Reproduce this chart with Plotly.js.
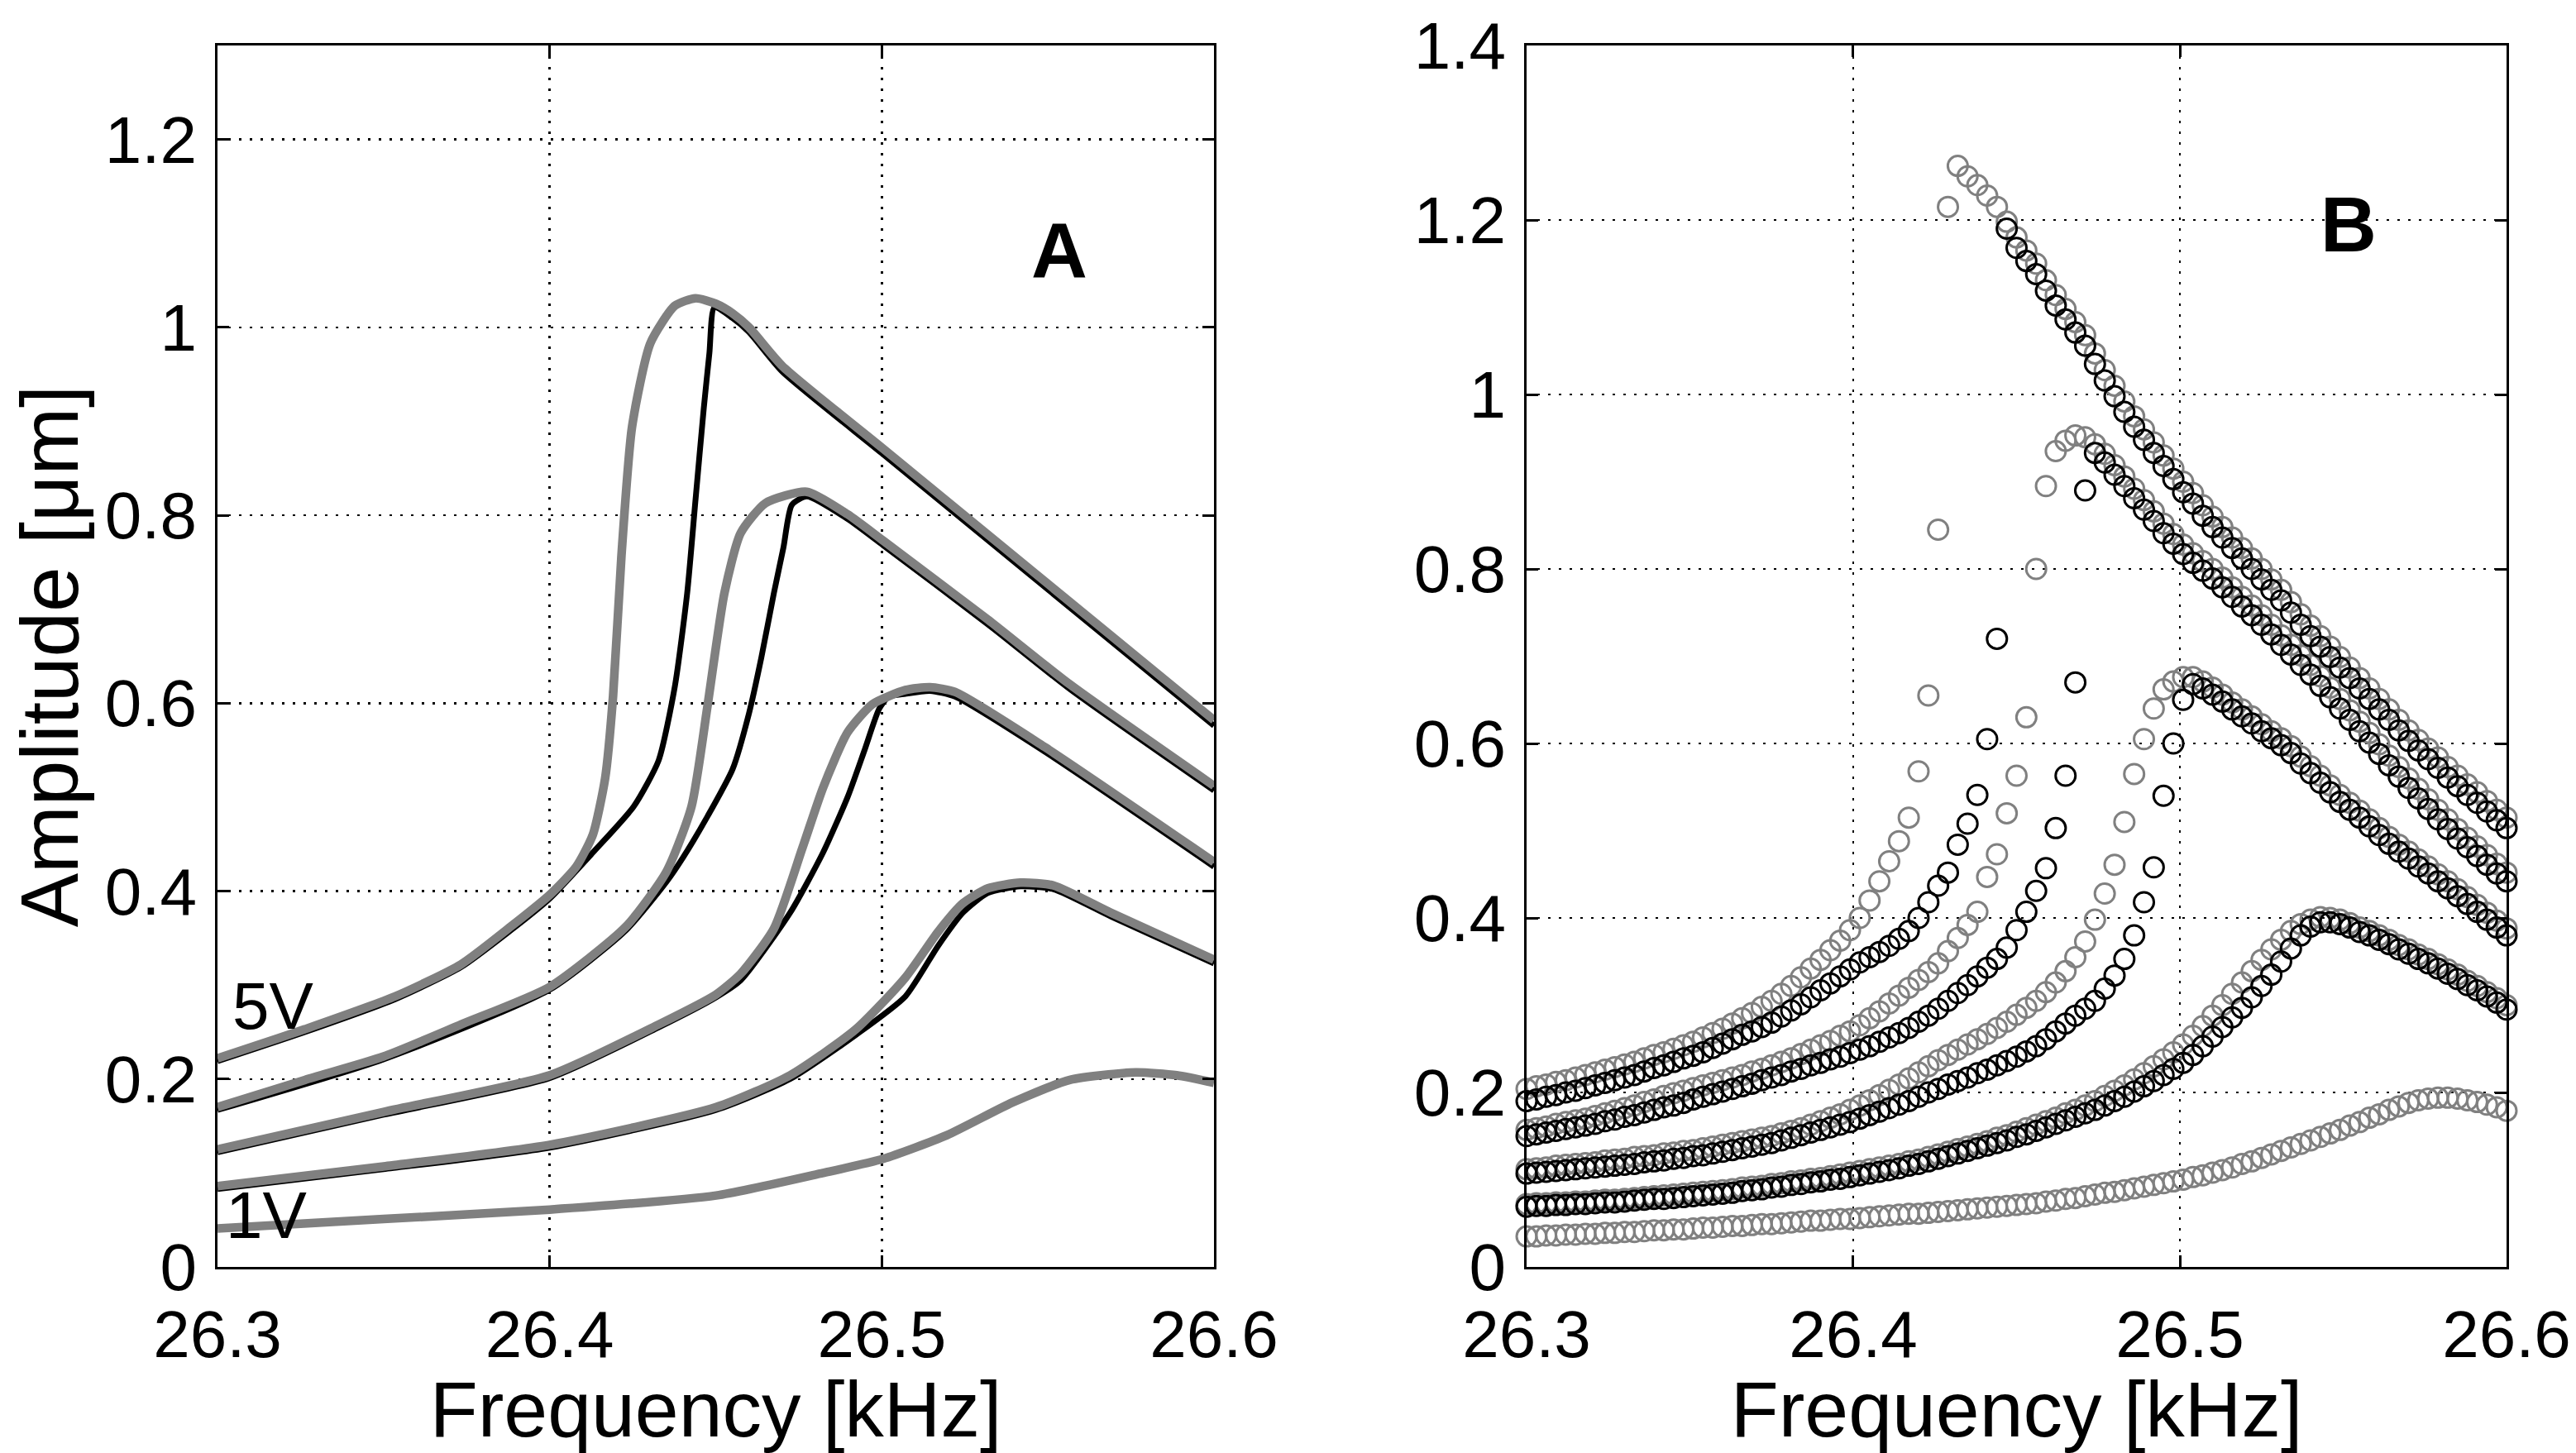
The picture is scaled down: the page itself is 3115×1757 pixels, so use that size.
<!DOCTYPE html>
<html>
<head>
<meta charset="utf-8">
<script src="https://cdn.plot.ly/plotly-3.0.1.min.js"></script>
<style>html,body{margin:0;padding:0;background:#fff;}#chart{width:3115px;height:1757px;}</style>
</head>
<body>
<div id="chart"></div>
<script>
// ---------- Panel A (model curves, solid lines) ----------
const aG5x = [26.3,26.3188,26.3263,26.3535,26.3733,26.3882,26.4,26.408,26.413,26.4167,26.4191,26.4216,26.4248,26.4303,26.4377,26.4439,26.4501,26.455,26.46,26.47,26.5,26.55,26.6];
const aG5y = [0.222,0.244,0.253,0.288,0.322,0.362,0.396,0.426,0.46,0.52,0.608,0.756,0.894,0.983,1.023,1.031,1.025,1.015,1.0,0.959,0.872,0.727,0.582];
const aK5x = [26.3,26.3263,26.3535,26.3733,26.3882,26.4,26.413,26.4253,26.4328,26.4377,26.4414,26.4439,26.4464,26.4481,26.4496,26.455,26.46,26.47,26.5,26.55,26.6];
const aK5y = [0.219,0.25,0.285,0.319,0.358,0.392,0.441,0.49,0.539,0.618,0.717,0.816,0.914,0.973,1.021,1.01,0.995,0.953,0.866,0.721,0.576];

const aG4x = [26.3,26.3263,26.35,26.3733,26.4,26.4229,26.4352,26.4427,26.4476,26.4526,26.4575,26.465,26.4774,26.4897,26.5004,26.5319,26.5566,26.6];
const aG4y = [0.170,0.199,0.224,0.258,0.298,0.362,0.421,0.49,0.599,0.717,0.781,0.813,0.825,0.801,0.773,0.689,0.62,0.512];
const aK4x = [26.3,26.35,26.4,26.4229,26.4352,26.4402,26.4476,26.4551,26.46,26.4637,26.4675,26.4704,26.4729,26.4774,26.4897,26.5004,26.5319,26.5566,26.6];
const aK4y = [0.167,0.221,0.295,0.358,0.41,0.436,0.48,0.53,0.589,0.648,0.717,0.766,0.811,0.82,0.796,0.768,0.684,0.615,0.507];

const aG3x = [26.3,26.35,26.4,26.4328,26.4501,26.4575,26.4675,26.4761,26.4823,26.4897,26.4972,26.5071,26.5145,26.522,26.5492,26.6];
const aG3y = [0.125,0.165,0.204,0.258,0.29,0.312,0.36,0.446,0.51,0.569,0.599,0.614,0.617,0.612,0.553,0.431];
const aK3x = [26.3,26.35,26.4,26.4328,26.4501,26.4575,26.4724,26.4823,26.4897,26.4947,26.4992,26.5021,26.5071,26.5145,26.522,26.5492,26.6];
const aK3y = [0.122,0.162,0.201,0.255,0.287,0.305,0.377,0.441,0.5,0.549,0.594,0.607,0.61,0.613,0.607,0.548,0.426];

const aG2x = [26.3,26.35,26.4,26.4501,26.4724,26.4922,26.5071,26.517,26.5244,26.5319,26.5418,26.5517,26.569,26.6];
const aG2y = [0.086,0.107,0.13,0.17,0.204,0.253,0.308,0.357,0.387,0.403,0.409,0.406,0.377,0.327];
const aK2x = [26.3,26.35,26.4,26.4501,26.4724,26.4922,26.5071,26.517,26.5244,26.5319,26.5418,26.5517,26.569,26.6];
const aK2y = [0.083,0.104,0.127,0.167,0.2,0.247,0.288,0.342,0.377,0.398,0.405,0.402,0.373,0.323];

const aG1x = [26.3,26.35,26.4,26.4501,26.4823,26.5004,26.5195,26.5393,26.5566,26.5764,26.5888,26.6];
const aG1y = [0.041,0.051,0.061,0.076,0.1,0.115,0.14,0.175,0.199,0.207,0.204,0.196];

// ---------- Panel B (measured sweeps, open circles) ----------
const freqB = [26.300,26.303,26.306,26.309,26.312,26.315,26.318,26.321,26.324,26.327,
26.330,26.333,26.336,26.339,26.342,26.345,26.348,26.351,26.354,26.357,
26.360,26.363,26.366,26.369,26.372,26.375,26.378,26.381,26.384,26.387,
26.390,26.393,26.396,26.399,26.402,26.405,26.408,26.411,26.414,26.417,
26.420,26.423,26.426,26.429,26.432,26.435,26.438,26.441,26.444,26.447,
26.450,26.453,26.456,26.459,26.462,26.465,26.468,26.471,26.474,26.477,
26.480,26.483,26.486,26.489,26.492,26.495,26.498,26.501,26.504,26.507,
26.510,26.513,26.516,26.519,26.522,26.525,26.528,26.531,26.534,26.537,
26.540,26.543,26.546,26.549,26.552,26.555,26.558,26.561,26.564,26.567,
26.570,26.573,26.576,26.579,26.582,26.585,26.588,26.591,26.594,26.597,26.600];

const bG5 = [.204,.207,.209,.212,.214,.217,.220,.223,.226,.229,
.232,.235,.239,.243,.246,.250,.254,.258,.263,.268,
.273,.279,.285,.291,.298,.305,.313,.322,.332,.342,
.352,.363,.374,.386,.400,.420,.442,.465,.488,.515,
.568,.655,.845,1.215,1.262,1.250,1.240,1.228,1.215,1.198,
1.180,1.165,1.150,1.131,1.114,1.098,1.083,1.068,1.047,1.028,
1.010,.992,.975,.960,.945,.930,.915,.900,.887,.873,
.860,.848,.836,.824,.812,.800,.788,.776,.762,.748,
.735,.723,.711,.699,.687,.675,.663,.651,.639,.627,
.615,.604,.594,.584,.573,.563,.553,.544,.534,.524,.515];

const bK5 = [.190,.192,.195,.197,.200,.202,.205,.208,.211,.214,
.217,.220,.224,.228,.231,.235,.239,.242,.246,.251,
.256,.261,.266,.270,.275,.280,.287,.294,.301,.309,
.317,.325,.333,.341,.349,.355,.361,.368,.376,.385,
.400,.418,.437,.452,.484,.508,.541,.605,.720,1.190,
1.168,1.153,1.138,1.119,1.102,1.086,1.071,1.056,1.035,1.016,
.998,.980,.963,.948,.933,.918,.903,.888,.875,.861,
.848,.836,.824,.812,.800,.788,.776,.764,.750,.736,
.723,.711,.699,.687,.675,.663,.651,.639,.627,.615,
.603,.592,.582,.572,.561,.551,.541,.532,.522,.512,.503];

const bG4 = [.157,.159,.161,.164,.166,.168,.170,.173,.176,.179,
.182,.185,.189,.192,.196,.199,.202,.205,.208,.211,
.214,.217,.220,.224,.227,.231,.235,.239,.244,.249,
.254,.259,.265,.270,.277,.285,.293,.302,.311,.320,
.329,.338,.348,.362,.377,.392,.407,.447,.473,.520,
.563,.630,.800,.895,.935,.947,.953,.951,.943,.932,
.919,.906,.892,.879,.866,.852,.840,.828,.818,.809,
.800,.790,.779,.768,.758,.747,.736,.724,.713,.701,
.690,.677,.664,.651,.638,.625,.612,.599,.586,.573,
.560,.548,.536,.524,.513,.502,.492,.482,.472,.462,.452];

const bK4 = [.150,.152,.154,.156,.158,.160,.162,.164,.167,.169,
.172,.174,.177,.180,.183,.185,.188,.192,.195,.198,
.201,.204,.207,.210,.214,.217,.220,.224,.227,.231,
.234,.238,.241,.245,.249,.253,.258,.263,.268,.274,
.281,.288,.296,.305,.314,.323,.333,.343,.353,.366,
.386,.407,.431,.457,.503,.563,.670,.890,.933,.922,
.908,.895,.881,.868,.855,.841,.829,.817,.807,.798,
.789,.779,.768,.757,.747,.736,.725,.713,.702,.690,
.679,.666,.653,.640,.627,.614,.601,.588,.575,.562,
.549,.537,.525,.513,.502,.491,.481,.471,.461,.451,.442];

const bG3 = [.112,.113,.114,.116,.117,.118,.119,.120,.122,.123,
.124,.126,.127,.128,.130,.131,.133,.134,.136,.138,
.140,.142,.144,.146,.148,.150,.153,.156,.159,.163,
.167,.171,.175,.180,.185,.191,.197,.203,.209,.216,
.223,.230,.237,.243,.249,.255,.261,.267,.274,.281,
.289,.297,.305,.315,.326,.339,.355,.373,.398,.428,
.461,.510,.565,.605,.640,.662,.671,.676,.676,.671,
.664,.656,.647,.639,.631,.622,.614,.606,.597,.585,
.574,.563,.552,.541,.532,.523,.513,.503,.493,.484,
.476,.467,.459,.450,.442,.433,.424,.415,.406,.397,.388];

const bK3 = [.107,.108,.109,.110,.111,.112,.113,.114,.115,.116,
.117,.118,.120,.121,.122,.124,.125,.127,.128,.130,
.132,.134,.136,.138,.140,.142,.145,.148,.151,.154,
.157,.160,.163,.166,.170,.174,.178,.182,.186,.190,
.195,.200,.204,.209,.213,.217,.222,.226,.231,.236,
.241,.247,.253,.261,.270,.279,.288,.296,.305,.319,
.334,.353,.380,.418,.458,.540,.600,.650,.668,.663,
.656,.648,.639,.631,.623,.614,.606,.598,.589,.577,
.566,.555,.544,.533,.524,.515,.505,.495,.485,.476,
.468,.459,.451,.442,.434,.425,.416,.407,.398,.389,.380];

const bG2 = [.072,.073,.073,.074,.074,.075,.075,.076,.077,.077,
.078,.079,.080,.081,.082,.083,.084,.085,.086,.087,
.088,.089,.091,.092,.093,.095,.096,.098,.099,.101,
.102,.104,.106,.108,.110,.112,.114,.116,.118,.121,
.123,.126,.129,.132,.135,.138,.141,.144,.148,.151,
.155,.159,.163,.167,.171,.176,.180,.185,.190,.196,
.202,.208,.215,.222,.230,.238,.246,.255,.265,.276,
.288,.300,.313,.326,.339,.352,.364,.375,.385,.393,
.398,.401,.400,.398,.394,.389,.385,.380,.375,.369,
.364,.358,.353,.347,.341,.335,.328,.322,.315,.308,.300];

const bK2 = [.069,.070,.070,.071,.071,.072,.072,.073,.074,.074,
.075,.076,.077,.078,.078,.079,.080,.081,.082,.083,
.084,.085,.087,.088,.089,.091,.092,.094,.095,.097,
.098,.100,.101,.103,.105,.107,.109,.111,.113,.116,
.118,.121,.124,.127,.130,.133,.136,.139,.142,.145,
.149,.152,.156,.160,.164,.168,.172,.176,.180,.185,
.190,.195,.201,.207,.213,.220,.227,.234,.243,.253,
.264,.275,.286,.297,.309,.322,.335,.350,.365,.380,
.390,.395,.395,.393,.389,.384,.380,.375,.370,.364,
.359,.353,.348,.342,.336,.330,.323,.317,.310,.303,.295];

const bG1 = [.035,.035,.036,.036,.037,.037,.038,.038,.039,.039,
.040,.040,.041,.042,.042,.043,.043,.044,.045,.045,
.046,.047,.047,.048,.049,.049,.050,.051,.052,.053,
.053,.054,.055,.055,.056,.057,.058,.059,.060,.061,
.061,.062,.063,.064,.065,.066,.067,.068,.069,.070,
.071,.072,.073,.075,.076,.078,.079,.081,.083,.085,
.086,.088,.090,.092,.094,.096,.098,.100,.103,.105,
.108,.111,.114,.118,.121,.125,.129,.133,.137,.141,
.145,.149,.153,.157,.162,.166,.171,.175,.180,.184,
.188,.191,.193,.194,.194,.193,.191,.189,.186,.183,.179];

const xTicks = [26.3, 26.4, 26.5, 26.6];
const xTickText = ['26.3', '26.4', '26.5', '26.6'];
const yTicksA = [0, 0.2, 0.4, 0.6, 0.8, 1.0, 1.2];
const yTickTextA = ['0', '0.2', '0.4', '0.6', '0.8', '1', '1.2'];
const yTicksB = [0, 0.2, 0.4, 0.6, 0.8, 1.0, 1.2, 1.4];
const yTickTextB = ['0', '0.2', '0.4', '0.6', '0.8', '1', '1.2', '1.4'];

const GRAY = '#808080', BLACK = '#000000';
const FONT = '"Liberation Sans", Arial, Helvetica, sans-serif';

function lineTrace(x, y, color, w) {
  return {x: x, y: y, xaxis: 'x', yaxis: 'y', type: 'scatter', mode: 'lines',
    line: {color: color, width: w, shape: 'spline', smoothing: 0.6}, hoverinfo: 'skip', showlegend: false};
}
function markTrace(y, color) {
  return {x: freqB, y: y, xaxis: 'x2', yaxis: 'y2', type: 'scatter', mode: 'markers', cliponaxis: false,
    marker: {symbol: 'circle-open', size: 24, color: color, line: {width: 3}}, hoverinfo: 'skip', showlegend: false};
}

const traces = [
  lineTrace(aK5x, aK5y, BLACK, 7), lineTrace(aK4x, aK4y, BLACK, 7), lineTrace(aK3x, aK3y, BLACK, 7), lineTrace(aK2x, aK2y, BLACK, 7),
  lineTrace(aG5x, aG5y, GRAY, 10.5), lineTrace(aG4x, aG4y, GRAY, 10.5), lineTrace(aG3x, aG3y, GRAY, 10.5), lineTrace(aG2x, aG2y, GRAY, 10.5), lineTrace(aG1x, aG1y, GRAY, 10.5),
  markTrace(bG1, GRAY),
  markTrace(bG2, GRAY), markTrace(bK2, BLACK),
  markTrace(bG3, GRAY), markTrace(bK3, BLACK),
  markTrace(bG4, GRAY), markTrace(bK4, BLACK),
  markTrace(bG5, GRAY), markTrace(bK5, BLACK)
];

function xAxis(domain, anchor) {
  return {domain: domain, anchor: anchor, range: [26.3, 26.6], tickvals: xTicks, ticktext: xTickText,
    showline: true, mirror: 'ticks', linecolor: BLACK, linewidth: 3, ticks: 'inside', ticklen: 14, tickwidth: 3, tickcolor: BLACK,
    showgrid: true, gridcolor: BLACK, gridwidth: 2.5, griddash: '3px,10px', zeroline: false,
    tickfont: {family: FONT, size: 80, color: BLACK}, ticklabelstandoff: 10,
    title: {text: 'Frequency [kHz]', font: {family: FONT, size: 95, color: BLACK}, standoff: 10}};
}
function yAxis(range, tv, tt, anchor, title) {
  const ax = {domain: [0, 1], anchor: anchor, range: range, tickvals: tv, ticktext: tt,
    showline: true, mirror: 'ticks', linecolor: BLACK, linewidth: 3, ticks: 'inside', ticklen: 14, tickwidth: 3, tickcolor: BLACK,
    showgrid: true, gridcolor: BLACK, gridwidth: 2.5, griddash: '3px,10px', zeroline: false,
    tickfont: {family: FONT, size: 80, color: BLACK}, ticklabelstandoff: 6};
  if (title) ax.title = {text: title, font: {family: FONT, size: 98, color: BLACK}, standoff: 0};
  return ax;
}

const layout = {
  width: 3115, height: 1757,
  margin: {l: 263, r: 84, t: 55, b: 225},
  paper_bgcolor: '#ffffff', plot_bgcolor: '#ffffff',
  showlegend: false, hovermode: false,
  xaxis: xAxis([0, 0.43533], 'y'),
  yaxis: yAxis([0, 1.3], yTicksA, yTickTextA, 'x', 'Amplitude [μm]'),
  xaxis2: xAxis([0.57189, 1], 'y2'),
  yaxis2: yAxis([0, 1.4], yTicksB, yTickTextB, 'x2', null),
  annotations: [
    {xref: 'x', yref: 'y', x: 26.5534, y: 1.0817, text: '<b>A</b>', showarrow: false, font: {family: FONT, size: 94, color: BLACK}},
    {xref: 'x2', yref: 'y2', x: 26.5516, y: 1.1945, text: '<b>B</b>', showarrow: false, font: {family: FONT, size: 94, color: BLACK}},
    {xref: 'x', yref: 'y', x: 26.3167, y: 0.278, text: '5V', showarrow: false, font: {family: FONT, size: 80, color: BLACK}},
    {xref: 'x', yref: 'y', x: 26.3147, y: 0.0546, text: '1V', showarrow: false, font: {family: FONT, size: 80, color: BLACK}}
  ]
};

Plotly.newPlot('chart', traces, layout, {staticPlot: true, displayModeBar: false});
</script>
</body>
</html>
